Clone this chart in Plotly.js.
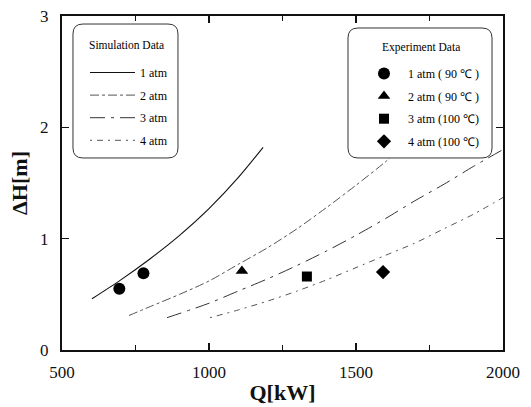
<!DOCTYPE html>
<html>
<head>
<meta charset="utf-8">
<script src="https://cdn.plot.ly/plotly-3.0.1.min.js"></script>
<style>html,body{margin:0;padding:0;background:#fff;}#chart{width:531px;height:407px;}</style>
</head>
<body>
<div id="chart"></div>
<script>
// Simulation data (Q in kW, ΔH in m)
const simNames = ["1 atm", "2 atm", "3 atm", "4 atm"];
const q1 = [602, 700, 800, 900, 1000, 1100, 1184];
const h1 = [0.46, 0.63, 0.82, 1.03, 1.27, 1.55, 1.82];
const q2 = [728, 800, 900, 1000, 1100, 1200, 1300, 1400, 1500, 1600, 1700];
const h2 = [0.31, 0.39, 0.50, 0.62, 0.77, 0.92, 1.09, 1.28, 1.48, 1.69, 1.92];
const q3 = [857, 1000, 1100, 1200, 1300, 1400, 1500, 1600, 1700, 1800, 1900, 2000];
const h3 = [0.29, 0.42, 0.53, 0.64, 0.76, 0.89, 1.03, 1.18, 1.34, 1.49, 1.65, 1.80];
const q4 = [1003, 1100, 1200, 1300, 1400, 1500, 1600, 1700, 1800, 1900, 2000];
const h4 = [0.29, 0.36, 0.44, 0.53, 0.63, 0.74, 0.85, 0.96, 1.09, 1.22, 1.37];

// Experiment data
const expNames = ["1 atm ( 90 \u2103 )", "2 atm ( 90 \u2103 )", "3 atm (100 \u2103)", "4 atm (100 \u2103)"];
const expQ1 = [695, 777];
const expH1 = [0.55, 0.69];
const expQ2 = [1112];
const expH2 = [0.71];
const expQ3 = [1333];
const expH3 = [0.66];
const expQ4 = [1592];
const expH4 = [0.70];

const xTicks = [500, 1000, 1500, 2000];
const yTicks = [0, 1, 2, 3];
const simTitle = "Simulation Data";
const expTitle = "Experiment Data";

const serif = "Liberation Serif, Times New Roman, serif";
const ink = "#111";

const simQ = [q1, q2, q3, q4];
const simH = [h1, h2, h3, h4];
const simDash = ["solid", "dashdot", "longdashdot", "2px,5px,6px,5px"];
const simWidth = [1.1, 1, 1, 1];
const simColor = ["#111", "#555", "#333", "#555"];

const traces = [];
simQ.forEach((q, i) => {
  traces.push({
    x: q, y: simH[i], type: "scatter", mode: "lines",
    line: {color: simColor[i], width: simWidth[i], dash: simDash[i], shape: "spline", smoothing: 0.8},
    name: simNames[i], legend: "legend", legendgroup: "s" + i, hoverinfo: "skip"
  });
});

const expQ = [expQ1, expQ2, expQ3, expQ4];
const expH = [expH1, expH2, expH3, expH4];
const expSym = ["circle", "triangle-up", "square", "diamond"];
const expSize = [12, 11, 10, 11];
expQ.forEach((q, i) => {
  traces.push({
    x: q, y: expH[i], type: "scatter", mode: "markers",
    marker: {symbol: expSym[i], size: expSize[i], color: "#000", line: {width: 0}},
    name: expNames[i], legend: "legend2", legendgroup: "e" + i, hoverinfo: "skip"
  });
});

// plot area geometry (px) for converting legend box corners to paper units
const W = 531, H = 407;
const M = {l: 62, r: 28, t: 16, b: 57};
const pw = W - M.l - M.r, ph = H - M.t - M.b;
function px2paperX(p) { return (p - M.l) / pw; }
function px2paperY(p) { return (H - M.b - p) / ph; }
function roundRect(x0p, y0p, x1p, y1p, r) {
  const X = v => px2paperX(v).toFixed(4), Y = v => px2paperY(v).toFixed(4);
  return "M" + X(x0p + r) + "," + Y(y0p) +
    " L" + X(x1p - r) + "," + Y(y0p) +
    " Q" + X(x1p) + "," + Y(y0p) + " " + X(x1p) + "," + Y(y0p + r) +
    " L" + X(x1p) + "," + Y(y1p - r) +
    " Q" + X(x1p) + "," + Y(y1p) + " " + X(x1p - r) + "," + Y(y1p) +
    " L" + X(x0p + r) + "," + Y(y1p) +
    " Q" + X(x0p) + "," + Y(y1p) + " " + X(x0p) + "," + Y(y1p - r) +
    " L" + X(x0p) + "," + Y(y0p + r) +
    " Q" + X(x0p) + "," + Y(y0p) + " " + X(x0p + r) + "," + Y(y0p) + " Z";
}

const legFont = {family: serif, size: 12, color: "#000"};

const layout = {
  width: W, height: H,
  margin: M,
  paper_bgcolor: "#fff", plot_bgcolor: "#fff",
  font: {family: serif, color: ink},
  showlegend: true,
  xaxis: {
    range: [500, 2000], tickvals: xTicks, ticktext: xTicks.map(String),
    ticks: "inside", ticklen: 7, tickwidth: 1.5, tickcolor: ink,
    minor: {tickvals: [750, 1250, 1750], ticks: "inside", ticklen: 5, tickwidth: 1.5, tickcolor: ink},
    showline: true, linewidth: 2, linecolor: ink, mirror: "ticks",
    showgrid: false, zeroline: false, ticklabelstandoff: 6,
    tickfont: {family: serif, size: 17, color: ink},
    title: {text: "Q[kW]", font: {family: serif, size: 22, weight: "bold", color: ink}, standoff: 3}
  },
  yaxis: {
    range: [0, 3], tickvals: yTicks, ticktext: yTicks.map(String),
    ticks: "inside", ticklen: 7, tickwidth: 1.5, tickcolor: ink,
    showline: true, linewidth: 2, linecolor: ink, mirror: "ticks",
    showgrid: false, zeroline: false, ticklabelstandoff: 8,
    tickfont: {family: serif, size: 17, color: ink},
    title: {text: "\u0394H[m]\u00a0\u00a0\u00a0\u00a0", font: {family: serif, size: 22, weight: "bold", color: ink}, standoff: 6}
  },
  shapes: [
    {type: "path", xref: "paper", yref: "paper", layer: "above",
     path: roundRect(73, 24, 178, 158, 10), fillcolor: "#fff", line: {color: "#333", width: 1}},
    {type: "path", xref: "paper", yref: "paper", layer: "above",
     path: roundRect(348, 28, 492, 158, 10), fillcolor: "#fff", line: {color: "#333", width: 1}}
  ],
  annotations: [
    {text: simTitle, xref: "paper", yref: "paper", x: px2paperX(126), y: px2paperY(45),
     xanchor: "center", yanchor: "middle", showarrow: false, font: {family: serif, size: 11.5, color: "#000"}},
    {text: expTitle, xref: "paper", yref: "paper", x: px2paperX(421), y: px2paperY(48),
     xanchor: "center", yanchor: "middle", showarrow: false, font: {family: serif, size: 11.5, color: "#000"}}
  ],
  legend: {
    x: px2paperX(85), y: px2paperY(58), xanchor: "left", yanchor: "top",
    bgcolor: "rgba(0,0,0,0)", borderwidth: 0,
    traceorder: "grouped", tracegroupgap: 3.6, itemwidth: 45,
    font: legFont
  },
  legend2: {
    x: px2paperX(360), y: px2paperY(59), xanchor: "left", yanchor: "top",
    bgcolor: "rgba(0,0,0,0)", borderwidth: 0,
    traceorder: "grouped", tracegroupgap: 3.6, itemwidth: 38,
    font: legFont
  }
};

Plotly.newPlot("chart", traces, layout, {displayModeBar: false, staticPlot: true});
</script>
</body>
</html>
